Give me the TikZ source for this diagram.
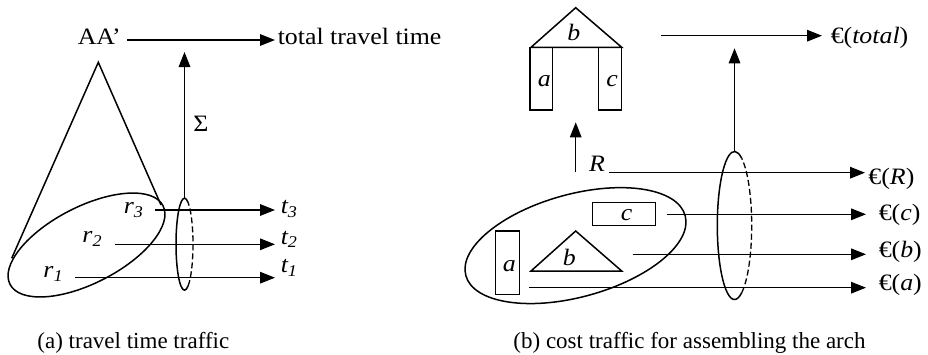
\documentclass[tikz,border=0pt]{standalone}
\usepackage{fontspec}
\usepackage{graphicx}
\setmainfont{Liberation Serif}
\usetikzlibrary{arrows.meta}
% labels in the drawing are set slightly wide
\newcommand{\widetext}[1]{\scalebox{1.1}[1]{#1}}

\begin{document}
\begin{tikzpicture}[x=1pt,y=-1pt,line width=1.5pt,
  arr/.style={-{Triangle[length=15pt,width=11.5pt]}},
  lab/.style={inner ysep=0pt,inner xsep=0pt,anchor=base west,
              font=\fontsize{23.5}{28}\selectfont},
  caption/.style={inner sep=0pt,anchor=base west,font=\fontsize{23}{27}\selectfont},
  hidden/.style={line width=1.3pt,dash pattern=on 6pt off 3pt}]

\useasboundingbox (0,0) rectangle (928,354);

%% ---------------- (a) travel time traffic ----------------
% cone over the set of routes
\coordinate (apex) at (98.3,62.3);
\draw (11.7,258.3) -- (apex) -- (161,205);
\draw[rotate around={27.2:(86.5,245)}] (86.5,245) ellipse [x radius=86pt, y radius=38.2pt];

\node[lab] (AA) at (77,44.3) {\widetext{AA’}};
\node[lab, inner xsep=2pt] (total) at (275,44.3) {\widetext{total travel time}};
\coordinate (sAA) at (127,40);
\draw[arr] (sAA) -- (sAA -| total.west);

\node[lab] (r3) at (123,213.3) {\widetext{\textit{r\textsubscript{3}}}};
\node[lab] (r2) at (81.7,242.7) {\widetext{\textit{r\textsubscript{2}}}};
\node[lab] (r1) at (42.7,277.3) {\widetext{\textit{r\textsubscript{1}}}};

\node[lab, inner xsep=5pt] (t3) at (275,213.3) {\widetext{\textit{t\textsubscript{3}}}};
\node[lab, inner xsep=5pt] (t2) at (275,244) {\widetext{\textit{t\textsubscript{2}}}};
\node[lab, inner xsep=5pt] (t1) at (275,272.7) {\widetext{\textit{t\textsubscript{1}}}};

\coordinate (s3) at (155,210);
\coordinate (s2) at (115,244.3);
\coordinate (s1) at (75,277.7);
\draw[arr] (s3) -- (s3 -| t3.west);
\draw[arr] (s2) -- (s2 -| t2.west);
\draw[arr] (s1) -- (s1 -| t1.west);

% summation ring and arrow
\coordinate (ringA) at (184.5,244.2);
\draw ([shift={(65:8.5pt and 46pt)}]ringA) arc[start angle=65, end angle=295, x radius=8.5pt, y radius=46pt];
\draw[hidden] ([shift={(-65:8.5pt and 46pt)}]ringA) arc[start angle=-65, end angle=65, x radius=8.5pt, y radius=46pt];
\coordinate (sigtip) at (184.5,52);
\draw[arr] ([yshift=46pt]ringA) -- (sigtip);
\node[lab] (sigma) at (192.7,131.7) {\widetext{Σ}};

\node[caption] (capA) at (36.7,348.5) {(a) travel time traffic};

%% ---------------- (b) cost traffic ----------------
% assembled arch
\draw (575.7,7.7) -- (531,47.3) -- (621.7,47.3) -- cycle;
\draw (530,47.3) rectangle (552.7,110);
\draw (598.3,47.3) rectangle (621.7,110);
\node[lab] (archb) at (566.7,40) {\widetext{\textit{b}}};
\node[lab] (archa) at (537,86) {\widetext{\textit{a}}};
\node[lab] (archc) at (605.7,86) {\widetext{\textit{c}}};

\coordinate (sTot) at (661,35.7);
\node[lab, inner xsep=8pt] (etot) at (822,43.4) {\widetext{€(\textit{total})}};
\draw[arr] (sTot) -- (sTot -| etot.west);

% assembly step
\coordinate (rBot) at (575.7,172.3);
\coordinate (rTop) at (575.7,122.3);
\draw[arr] (rBot) -- (rTop);
\node[lab] (R) at (588.3,171.7) {\widetext{\textit{R}}};

% loose parts
\draw[rotate around={15.3:(575.5,245.6)}] (575.5,245.6) ellipse [x radius=113.7pt, y radius=51.4pt];
\draw (592.7,202.3) rectangle (655.7,225.7);
\draw (575.7,231) -- (531,271) -- (621.7,271) -- cycle;
\draw (495.7,231) rectangle (519.3,294.3);
\node[lab] (pc) at (620,220) {\widetext{\textit{c}}};
\node[lab] (pb) at (562,265) {\widetext{\textit{b}}};
\node[lab] (pa) at (502,271.7) {\widetext{\textit{a}}};

\node[lab, inner xsep=2.7pt] (eR) at (865,184.2) {\widetext{€(\textit{R})}};
\node[lab, inner xsep=12pt] (ec) at (866,220.1) {\widetext{€(\textit{c})}};
\node[lab, inner xsep=12pt] (eb) at (866,257.6) {\widetext{€(\textit{b})}};
\node[lab, inner xsep=12pt] (ea) at (866,290.9) {\widetext{€(\textit{a})}};

\coordinate (sR) at (609.3,172.7);
\coordinate (sc) at (666.7,214.3);
\coordinate (sb) at (632.7,254.3);
\coordinate (sa) at (529.3,287.7);
\draw[arr] (sR) -- (sR -| eR.west);
\draw[arr] (sc) -- (sc -| ec.west);
\draw[arr] (sb) -- (sb -| eb.west);
\draw[arr] (sa) -- (sa -| ea.west);

% summation ring and arrow
\coordinate (ringB) at (734.5,225.5);
\draw ([shift={(65:17.2pt and 74pt)}]ringB) arc[start angle=65, end angle=295, x radius=17.2pt, y radius=74pt];
\draw[hidden] ([shift={(-65:17.2pt and 74pt)}]ringB) arc[start angle=-65, end angle=65, x radius=17.2pt, y radius=74pt];
\coordinate (costtip) at (734.5,48.3);
\draw[arr] ([yshift=74pt]ringB) -- (costtip);

\node[caption] (capB) at (512.7,348.5) {(b) cost traffic for assembling the arch};

\end{tikzpicture}
\end{document}
